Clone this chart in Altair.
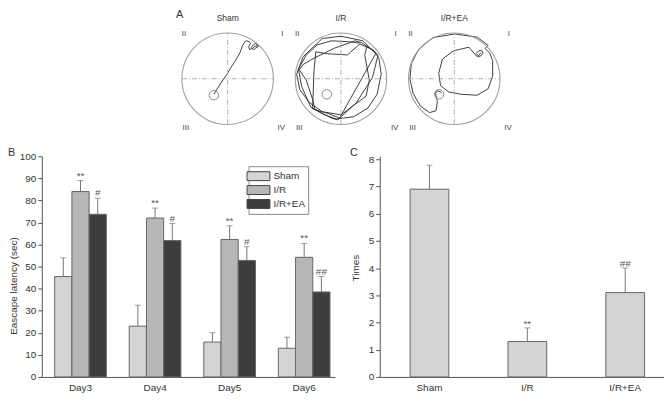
import altair as alt
import pandas as pd

# ---------------- Panel A : swim paths (normalised pool units, radius = 1) ----------------
pool_names = ["Sham", "I/R", "I/R+EA"]
platform_x = [-0.30, -0.31, -0.33]
platform_y = [-0.36, -0.34, -0.34]

sham_track_x = [-0.30, -0.23, -0.12, -0.02, 0.08, 0.19, 0.27, 0.32, 0.36, 0.41, 0.48, 0.50,
                0.46, 0.48, 0.54, 0.60, 0.66, 0.61, 0.54, 0.52, 0.57, 0.61, 0.68]
sham_track_y = [-0.34, -0.22, -0.05, 0.09, 0.26, 0.43, 0.57, 0.71, 0.79, 0.83, 0.81, 0.77,
                0.71, 0.64, 0.66, 0.71, 0.72, 0.77, 0.72, 0.68, 0.63, 0.67, 0.71]

ir_track_x = [0.41, 0.17, -0.21, -0.52, -0.76, -0.93, -0.86, -0.66, -0.38, -0.10, 0.28, 0.59,
              0.79, 0.88, 0.83, 0.72, 0.45, 0.31, -0.14, -0.59, -0.83, -0.91, -0.76, -0.62,
              -0.57, -0.21, -0.07, 0.34, 0.69, 0.81, 0.69, 0.41, 0.14, -0.34, -0.55, -0.59,
              -0.62, -0.28, -0.03, 0.76, 0.48, 0.00, -0.41, -0.83, -0.97, -0.90, -0.69, -0.41,
              0.00, 0.55, 0.62, 0.52, 0.57]
ir_track_y = [0.78, 0.81, 0.83, 0.74, 0.52, 0.21, -0.17, -0.62, -0.78, -0.88, -0.83, -0.64,
              -0.34, 0.10, 0.45, 0.60, 0.79, 0.83, 0.67, 0.45, 0.31, 0.19, -0.03, -0.45,
              -0.67, -0.86, -0.90, -0.52, 0.03, 0.52, 0.64, 0.76, 0.52, 0.55, 0.59, 0.17,
              -0.66, -0.76, -0.86, 0.55, 0.83, 0.93, 0.88, 0.48, 0.10, -0.24, -0.52, -0.72,
              -0.79, -0.38, -0.03, 0.52, 0.72]

ea_track_x = [0.58, 0.53, 0.48, 0.53, 0.60, 0.63, 0.55, 0.48, 0.32, -0.02, -0.26, -0.34,
              -0.30, -0.12, 0.15, 0.50, 0.74, 0.84, 0.84, 0.77, 0.67, 0.74, 0.50, 0.01,
              -0.47, -0.78, -0.94, -0.97, -0.90, -0.74, -0.54, -0.40, -0.37, -0.41, -0.37, -0.28]
ea_track_y = [0.57, 0.50, 0.55, 0.61, 0.62, 0.55, 0.48, 0.50, 0.69, 0.61, 0.43, 0.12,
              -0.15, -0.29, -0.34, -0.36, -0.22, 0.06, 0.40, 0.57, 0.66, 0.73, 0.91, 0.98,
              0.90, 0.64, 0.33, -0.01, -0.32, -0.60, -0.74, -0.70, -0.50, -0.32, -0.26, -0.30]

tracks = [(sham_track_x, sham_track_y), (ir_track_x, ir_track_y), (ea_track_x, ea_track_y)]
quadrants = ["II", "I", "III", "IV"]

# ---------------- Panel B : escape latency ----------------
days = ["Day3", "Day4", "Day5", "Day6"]
groups = ["Sham", "I/R", "I/R+EA"]
sham_latency = [45.5, 23.0, 15.8, 13.0]
sham_upper = [54.0, 32.5, 20.0, 18.0]
ir_latency = [84.0, 72.0, 62.3, 54.2]
ir_upper = [89.0, 76.5, 68.5, 60.5]
ea_latency = [73.7, 61.8, 52.8, 38.5]
ea_upper = [81.0, 69.5, 59.0, 45.5]
sham_sig = ["", "", "", ""]
ir_sig = ["**", "**", "**", "**"]
ea_sig = ["#", "#", "#", "##"]
b_ticks = [0, 10, 20, 30, 40, 50, 60, 70, 80, 90, 100]

# ---------------- Panel C : platform crossings ----------------
crossing_times = [6.9, 1.3, 3.1]
crossing_upper = [7.78, 1.8, 4.0]
crossing_sig = ["", "**", "##"]
c_ticks = [0, 1, 2, 3, 4, 5, 6, 7, 8]

bar_colors = ["#d4d4d4", "#b7b7b7", "#3d3d3d"]
FONT = "Liberation Sans"
TXT = "#333333"
AX = "#555555"
one = pd.DataFrame({"k": [0]})

# layout (pixels inside the single view; origin = top-left of panel A row)
TOP_B = 135          # top of panels B and C
BOT = 357            # x-axis line of panels B and C
B_RANGE = [0, 295]
C_RANGE = [340, 626]
POOL_R = 46
POOL_CY = 57


def pool_layer(k):
    cx = 187 + 114 * k
    tx, ty = tracks[k]
    sx = alt.Scale(domain=[-1, 1], range=[cx - POOL_R, cx + POOL_R], nice=False, zero=False)
    sy = alt.Scale(domain=[-1, 1], range=[POOL_CY + POOL_R, POOL_CY - POOL_R], nice=False,
                   zero=False)
    dft = pd.DataFrame({"x": tx, "y": ty, "i": list(range(len(tx)))})
    track = alt.Chart(dft).mark_line(color="#2b2b2b", strokeWidth=0.9).encode(
        x=alt.X("x:Q", scale=sx, axis=None),
        y=alt.Y("y:Q", scale=sy, axis=None),
        order="i:Q",
    )
    pool = alt.Chart(one).mark_point(shape="circle", filled=False, size=(2 * POOL_R) ** 2,
                                     color="#a0a0a0", strokeWidth=1.1, opacity=1).encode(
        x=alt.datum(0), y=alt.datum(0))
    hline = alt.Chart(one).mark_rule(color="#a8a8a8", strokeWidth=0.9,
                                     strokeDash=[5, 2, 1, 2]).encode(
        x=alt.datum(-1), x2=alt.datum(1), y=alt.datum(0))
    vline = alt.Chart(one).mark_rule(color="#a8a8a8", strokeWidth=0.9,
                                     strokeDash=[5, 2, 1, 2]).encode(
        y=alt.datum(-1), y2=alt.datum(1), x=alt.datum(0))
    dfp = pd.DataFrame({"x": [platform_x[k]], "y": [platform_y[k]]})
    plat = alt.Chart(dfp).mark_point(shape="circle", filled=False, size=90,
                                     color="#8a8a8a", strokeWidth=1, opacity=1).encode(
        x="x:Q", y="y:Q")
    title = alt.Chart(one).mark_text(text=pool_names[k], fontSize=8.5, color=TXT,
                                     baseline="middle").encode(
        x=alt.datum(0), y=alt.value(-4))
    qpos = [(cx - 44, 12), (cx + 55, 12), (cx - 42, 107), (cx + 54, 107)]
    qlayers = []
    for lab, (qx, qy) in zip(quadrants, qpos):
        qlayers.append(alt.Chart(one).mark_text(text=lab, fontSize=8, color="#444444",
                                                baseline="middle").encode(
            x=alt.value(qx), y=alt.value(qy)))
    return alt.layer(track, pool, hline, vline, plat, title, *qlayers)


P0, P1, P2 = pool_layer(0), pool_layer(1), pool_layer(2)

# ---------- panel B ----------
dfB = pd.DataFrame({
    "day": days * 3,
    "group": [g for g in groups for _ in days],
    "value": sham_latency + ir_latency + ea_latency,
    "upper": sham_upper + ir_upper + ea_upper,
    "sig": sham_sig + ir_sig + ea_sig,
})

xB = alt.X("day:N", sort=days,
           scale=alt.Scale(range=B_RANGE, paddingInner=0.307, paddingOuter=0.12, align=0.72),
           axis=alt.Axis(title=None, orient="bottom", labelAngle=0, ticks=False, labelPadding=6,
                         domainColor=AX, labelColor=TXT, labelFontSize=10))
xoB = alt.XOffset("group:N", sort=groups, scale=alt.Scale(paddingInner=0, paddingOuter=0))
yB_scale = alt.Scale(domain=[0, 100], range=[BOT, TOP_B], nice=False)
yB_axis = alt.Axis(values=b_ticks, orient="left", title="Eascape latency (sec)", tickSize=4,
                   labelPadding=2, grid=False, domainColor=AX, tickColor=AX, labelColor=TXT,
                   labelFontSize=10, titleFontSize=10, titleFontWeight="normal",
                   titleColor=TXT, titleX=-23, titleY=TOP_B + 130)

barsB = alt.Chart(dfB).mark_bar(stroke="#666666", strokeWidth=1).encode(
    x=xB, xOffset=xoB,
    y=alt.Y("value:Q", scale=yB_scale, axis=yB_axis),
    color=alt.Color("group:N", sort=groups,
                    scale=alt.Scale(domain=groups, range=bar_colors),
                    legend=alt.Legend(title=None, orient="none", legendX=208,
                                      legendY=TOP_B + 10,
                                      symbolType="M-1.77,-0.69H1.77V0.69H-1.77Z",
                                      symbolSize=169, symbolStrokeColor="#444444",
                                      symbolStrokeWidth=1, symbolOpacity=1,
                                      labelFontSize=10, labelColor=TXT, labelOffset=8,
                                      rowPadding=0, padding=3, strokeColor="#8a8a8a",
                                      fillColor="white")),
)
errB = alt.Chart(dfB).mark_rule(color="#777777", strokeWidth=1).encode(
    x=xB, xOffset=xoB,
    y=alt.Y("value:Q", scale=yB_scale, axis=yB_axis), y2="upper:Q")
capB = alt.Chart(dfB).mark_tick(color="#777777", size=6, thickness=1).encode(
    x=xB, xOffset=xoB,
    y=alt.Y("upper:Q", scale=yB_scale, axis=yB_axis))
sigB = alt.Chart(dfB).mark_text(color="#555555", fontSize=10, dy=-2,
                                baseline="alphabetic").encode(
    x=xB, xOffset=xoB,
    y=alt.Y("upper:Q", scale=yB_scale, axis=yB_axis), text="sig:N")
B = alt.layer(barsB, errB, capB, sigB)

# ---------- panel C ----------
dfC = pd.DataFrame({"group": groups, "times": crossing_times,
                    "upper": crossing_upper, "sig": crossing_sig})
xC = alt.X("group:N", sort=groups,
           scale=alt.Scale(range=C_RANGE, paddingInner=0.604, paddingOuter=0.254, align=0.61),
           axis=alt.Axis(title=None, orient="bottom", labelAngle=0, ticks=False, labelPadding=6,
                         domainColor=AX, labelColor=TXT, labelFontSize=10))
yC_scale = alt.Scale(domain=[0, 8.11], range=[BOT, TOP_B], nice=False)
yC_axis = alt.Axis(values=c_ticks, orient="left", offset=-C_RANGE[0], title="Times",
                   tickSize=4, labelPadding=2, grid=False, domainColor=AX, tickColor=AX,
                   labelColor=TXT, labelFontSize=10, titleFontSize=10,
                   titleFontWeight="normal", titleColor=TXT, titleX=-19,
                   titleY=TOP_B + 112)
barsC = alt.Chart(dfC).mark_bar(fill=bar_colors[0], stroke="#666666", strokeWidth=1).encode(
    x=xC, y=alt.Y("times:Q", scale=yC_scale, axis=yC_axis))
errC = alt.Chart(dfC).mark_rule(color="#777777", strokeWidth=1).encode(
    x=xC, y=alt.Y("times:Q", scale=yC_scale, axis=yC_axis), y2="upper:Q")
capC = alt.Chart(dfC).mark_tick(color="#777777", size=6, thickness=1).encode(
    x=xC, y=alt.Y("upper:Q", scale=yC_scale, axis=yC_axis))
sigC = alt.Chart(dfC).mark_text(color="#555555", fontSize=10, dy=-1,
                                baseline="alphabetic").encode(
    x=xC, y=alt.Y("upper:Q", scale=yC_scale, axis=yC_axis), text="sig:N")
C = alt.layer(barsC, errC, capC, sigC)

# ---------- panel letters ----------
letters = []
for lab, lx, ly, base in [("A", 135, -13, "top"), ("B", -34, TOP_B - 3, "middle"),
                          ("C", C_RANGE[0] - 30, TOP_B - 3, "middle")]:
    letters.append(alt.Chart(one).mark_text(text=lab, fontSize=11, color=TXT, align="left",
                                            baseline=base).encode(
        x=alt.value(lx), y=alt.value(ly)))

chart = alt.layer(P0, P1, P2, B, C, *letters).resolve_scale(
    x="independent", y="independent", color="independent"
).properties(width=626, height=BOT, padding=0).configure(font=FONT).configure_view(stroke=None)

chart.save("out.html", embed_options={"renderer": "svg", "actions": False})
